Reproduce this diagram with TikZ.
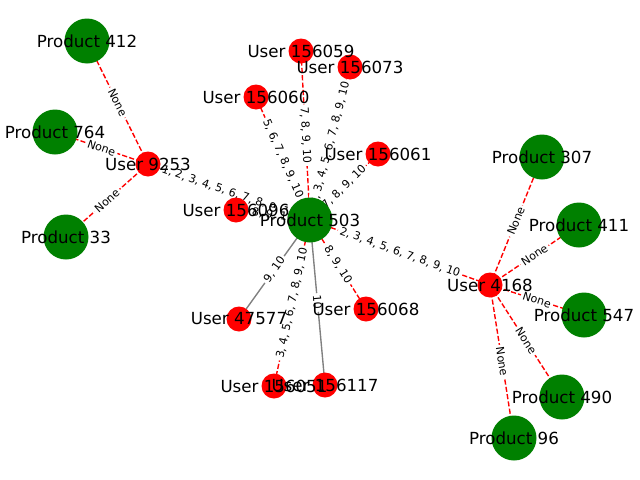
\documentclass[tikz,border=0pt]{standalone}
\usepackage{fontspec}
\setmainfont{DejaVu Sans}
\definecolor{nxred}{RGB}{255,0,0}
\definecolor{nxgreen}{RGB}{0,128,0}
\definecolor{nxgray}{RGB}{128,128,128}
\begin{document}
\begin{tikzpicture}[x=0.72pt,y=-0.72pt,
  hot/.style={draw=nxred, line width=1pt, dash pattern=on 3.7pt off 1.6pt},
  cold/.style={draw=nxgray, line width=1pt},
  elabel/.style={midway, sloped, fill=white, rounded corners=2pt, inner sep=1.6pt,
                 font=\fontsize{8}{9}\selectfont},
  prod/.style={circle, fill=nxgreen, minimum size=32.4pt, inner sep=0pt},
  user/.style={circle, fill=nxred, minimum size=18pt, inner sep=0pt},
  nlabel/.style={font=\fontsize{12}{14}\selectfont, inner sep=0pt}]
\useasboundingbox (0,0) rectangle (640,480);

% node centres
\coordinate (p503) at (310,220);
\coordinate (p412) at (87,41);
\coordinate (p764) at (55,132);
\coordinate (p33)  at (66,237);
\coordinate (p307) at (542,157);
\coordinate (p411) at (579,225);
\coordinate (p547) at (584,315);
\coordinate (p490) at (562,397);
\coordinate (p96)  at (514,438);
\coordinate (u9253)   at (148,164);
\coordinate (u4168)   at (490,285);
\coordinate (u156096) at (236,210);
\coordinate (u156059) at (301,51);
\coordinate (u156073) at (350,67);
\coordinate (u156060) at (256,97);
\coordinate (u156061) at (378,154);
\coordinate (u47577)  at (239,319);
\coordinate (u156068) at (366,309);
\coordinate (u156051) at (274,386);
\coordinate (u156117) at (325,385);

% connectors
\draw[hot]  (p503) -- (u9253);
\draw[hot]  (p503) -- (u156096);
\draw[hot]  (p503) -- (u156059);
\draw[hot]  (p503) -- (u156060);
\draw[hot]  (p503) -- (u156073);
\draw[hot]  (p503) -- (u156061);
\draw[hot]  (p503) -- (u4168);
\draw[cold] (p503) -- (u47577);
\draw[hot]  (p503) -- (u156051);
\draw[cold] (p503) -- (u156117);
\draw[hot]  (p503) -- (u156068);
\draw[hot]  (u9253) -- (p412);
\draw[hot]  (u9253) -- (p764);
\draw[hot]  (u9253) -- (p33);
\draw[hot]  (u4168) -- (p307);
\draw[hot]  (u4168) -- (p411);
\draw[hot]  (u4168) -- (p547);
\draw[hot]  (u4168) -- (p490);
\draw[hot]  (u4168) -- (p96);

% connector labels
\path (p503) -- (u9253)   node[elabel] {1, 2, 3, 4, 5, 6, 7, 8, 9, 10};
\path (p503) -- (u156096) node[elabel] {8, 9, 10};
\path (p503) -- (u156059) node[elabel] {7, 8, 9, 10};
\path (p503) -- (u156060) node[elabel] {5, 6, 7, 8, 9, 10};
\path (p503) -- (u156073) node[elabel] {2, 3, 4, 5, 6, 7, 8, 9, 10};
\path (p503) -- (u156061) node[elabel] {7, 8, 9, 10};
\path (p503) -- (u4168)   node[elabel] {2, 3, 4, 5, 6, 7, 8, 9, 10};
\path (p503) -- (u47577)  node[elabel] {9, 10};
\path (p503) -- (u156051) node[elabel] {3, 4, 5, 6, 7, 8, 9, 10};
\path (p503) -- (u156117) node[elabel] {10};
\path (p503) -- (u156068) node[elabel] {8, 9, 10};
\path (u9253) -- (p412) node[elabel] {None};
\path (u9253) -- (p764) node[elabel] {None};
\path (u9253) -- (p33)  node[elabel] {None};
\path (u4168) -- (p307) node[elabel] {None};
\path (u4168) -- (p411) node[elabel] {None};
\path (u4168) -- (p547) node[elabel] {None};
\path (u4168) -- (p490) node[elabel] {None};
\path (u4168) -- (p96)  node[elabel] {None};

% discs
\foreach \n in {p503,p412,p764,p33,p307,p411,p547,p490,p96}
  \node[prod] (\n disc) at (\n) {};
\foreach \n in {u9253,u4168,u156096,u156059,u156073,u156060,u156061,u47577,u156068,u156051,u156117}
  \node[user] (\n disc) at (\n) {};

% names
\node[nlabel] (t503) at (p503) {Product 503};
\node[nlabel] (t412) at (p412) {Product 412};
\node[nlabel] (t764) at (p764) {Product 764};
\node[nlabel] (t33)  at (p33)  {Product 33};
\node[nlabel] (t307) at (p307) {Product 307};
\node[nlabel] (t411) at (p411) {Product 411};
\node[nlabel] (t547) at (p547) {Product 547};
\node[nlabel] (t490) at (p490) {Product 490};
\node[nlabel] (t96)  at (p96)  {Product 96};
\node[nlabel] (t9253)   at (u9253)   {User 9253};
\node[nlabel] (t4168)   at (u4168)   {User 4168};
\node[nlabel] (t156096) at (u156096) {User 156096};
\node[nlabel] (t156059) at (u156059) {User 156059};
\node[nlabel] (t156073) at (u156073) {User 156073};
\node[nlabel] (t156060) at (u156060) {User 156060};
\node[nlabel] (t156061) at (u156061) {User 156061};
\node[nlabel] (t47577)  at (u47577)  {User 47577};
\node[nlabel] (t156068) at (u156068) {User 156068};
\node[nlabel] (t156051) at (u156051) {User 156051};
\node[nlabel] (t156117) at (u156117) {User 156117};
\end{tikzpicture}
\end{document}
